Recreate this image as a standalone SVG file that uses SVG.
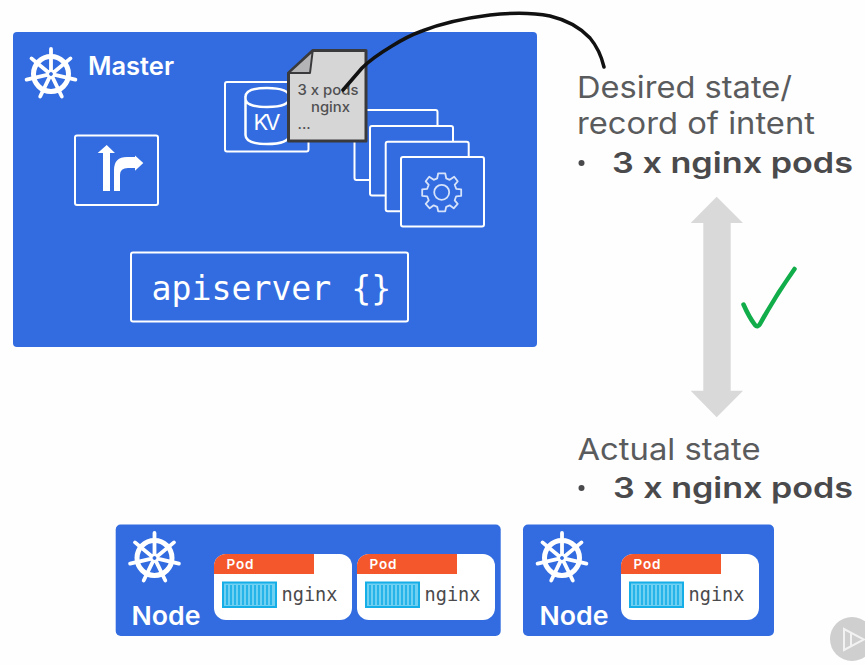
<svg xmlns="http://www.w3.org/2000/svg" width="865" height="665" viewBox="0 0 865 665">
<style>
.blue{fill:#326ce0}
.card{fill:#326ce0;stroke:#fff;stroke-width:2}
.t{font-family:"Inter","Open Sans",sans-serif;fill:#5a5b5d}
.d{font-family:"Inter","Open Sans",sans-serif;fill:#505052;font-weight:500}
.w{font-family:"Inter","Open Sans",sans-serif;fill:#fff;font-weight:600}
.m{font-family:"DejaVu Sans Mono","Liberation Mono",monospace}
.b{font-family:"Inter","Open Sans",sans-serif;font-weight:600;fill:#4a4a4c;font-size:28px}
.pw{fill:#fff}.po{fill:#f4572c}
</style>
<defs>
<g id="helm" fill="none" stroke="#fff" stroke-linecap="round">
<circle r="17.5" stroke-width="5"/>
<path stroke-width="3.800" d="M0-4V-25M3.100-2 19.500-15.600M3.900.9 24.400 5.600M1.700 3.600 10.800 22.500M-1.700 3.600-10.800 22.500M-3.900.9-24.400 5.600M-3.100-2-19.500-15.600"/>
<circle r="3.200" fill="#326ce0" stroke="#fff" stroke-width="2.600"/>
</g>
<g id="pod">
<path class="pw" d="M0 12a12 12 0 0 1 12-12H126a12 12 0 0 1 12 12V54a12 12 0 0 1-12 12H12A12 12 0 0 1 0 54Z"/>
<path class="po" d="M0 20V12A12 12 0 0 1 12 0H100V20Z"/>
<text x="12.500" y="14.500" font-size="13.500" class="w" textLength="27">Pod</text>
<rect x="9" y="28.500" width="53" height="24.500" fill="#6fd0f2" stroke="#16aee6" stroke-width="2"/>
<path d="M13 31V51M17 31V51M21 31V51M25 31V51M29 31V51M33 31V51M37 31V51M41 31V51M45 31V51M49 31V51M53 31V51M57 31V51" stroke="#16aee6" stroke-width="1.600"/>
<text x="67.500" y="46.500" font-size="18.600" class="m" fill="#4a4a4c">nginx</text>
</g>
</defs>
<rect width="865" height="665" fill="#fefefe"/>
<g id="master">
<rect class="blue" x="13" y="32" width="524" height="315" rx="4"/>
<use href="#helm" x="51" y="74"/>
<text x="88" y="75" font-size="25" class="w" textLength="86" lengthAdjust="spacingAndGlyphs">Master</text>
</g>
<g id="scheduler">
<rect class="card" x="75" y="135.500" width="83" height="69.500" rx="2"/>
<path d="M103 191V153H97.700L106.700 145 115 153H110V191ZM114 191V170Q114 157 127 157H135V155.500L143.300 163 135 170.700V168H128Q120 168 120 175V191Z" fill="#fff"/>
</g>
<g id="kv">
<rect class="card" x="225" y="82" width="83.500" height="69.500" rx="2"/>
<path d="M245.500 97V135Q245.500 144 267 144T290 135V97M245.500 97Q245.500 88 267 88T290 97Q290 107 267 107T245.500 97Z" fill="none" stroke="#fff" stroke-width="2.500"/>
<text x="267" y="129.500" font-size="22" text-anchor="middle" font-family="Inter,sans-serif" fill="#fff" textLength="27">KV</text>
</g>
<g id="controllers">
<rect class="card" x="354.500" y="110" width="83" height="70" rx="2"/>
<rect class="card" x="370" y="126" width="83" height="69.500" rx="2"/>
<rect class="card" x="385.700" y="141.700" width="83" height="69.500" rx="2"/>
<rect class="card" x="401" y="157" width="83" height="69.500" rx="2"/>
<g transform="translate(441.700 192.300)" fill="none" stroke="#d5e2fa" stroke-width="1.800">
<circle r="7.500"/>
<path d="M-3.500-19H3.500L4.500-14 8-12.500 12.500-15.500 16-11 13-7.500 14.500-3.500 19.500-3V3.500L14.500 4 13 8 16 11.500 12 16 8 13 4.500 14.500 3.500 19H-3.500L-4.500 14.500-8 13-12 16-16 11.500-13 8-14.500 4-19.500 3.500V-3L-14.500-3.500-13-7.500-16-11-12.500-15.500-8-12.500-4.500-14Z" stroke-linejoin="round"/>
</g>
</g>
<g id="record">
<path d="M312.700 50.500H366V141H288.500V73Z" fill="#d6d6d6" stroke="#3a3a3c" stroke-width="3" stroke-linejoin="round"/>
<path d="M312.700 51 288.500 73H310Z" fill="#b4b4b6" stroke="#3a3a3c" stroke-width="2" stroke-linejoin="round"/>
<text x="297.500" y="95" font-size="14.500" class="d" textLength="61" lengthAdjust="spacingAndGlyphs">3 x pods</text>
<text x="311" y="112" font-size="14.500" class="d" textLength="39" lengthAdjust="spacingAndGlyphs">nginx</text>
<text x="297.500" y="129" font-size="14.500" class="d">...</text>
</g>
<g id="apiserver">
<rect class="card" x="131" y="252.500" width="277" height="69" rx="2"/>
<text x="151.500" y="300" font-size="33.200" class="m" fill="#fff">apiserver {}</text>
</g>
<g id="desired">
<text x="577" y="98" font-size="30" class="t" textLength="215" lengthAdjust="spacingAndGlyphs">Desired state/</text>
<text x="577" y="134" font-size="30" class="t" textLength="238" lengthAdjust="spacingAndGlyphs">record of intent</text>
<circle cx="581.500" cy="163" r="3" fill="#4a4a4c"/>
<text x="612" y="173" class="b" textLength="241" lengthAdjust="spacingAndGlyphs">3 x nginx pods</text>
</g>
<g id="actual">
<text x="577.500" y="460" font-size="30" class="t" textLength="183" lengthAdjust="spacingAndGlyphs">Actual state</text>
<circle cx="581.500" cy="488" r="3" fill="#4a4a4c"/>
<text x="613" y="498" class="b" textLength="240" lengthAdjust="spacingAndGlyphs">3 x nginx pods</text>
</g>
<g id="connectors">
<path d="M716.700 196.700 743 223H730.700V390.700H743L716.700 417.300 690.700 390.700H703.300V223H690.700Z" fill="#d9d9d9"/>
<path d="M343 90Q350 82 362 68 372 58 392 46 408 36 422 31 450 20 490 15 525 11 550 16 575 22 590 38 600 50 604 67" fill="none" stroke="#111" stroke-width="3.500" stroke-linecap="round" stroke-linejoin="round"/>
<path d="M743.500 304.500Q749 317 755 325 757.500 328 760 324 776 295 794.500 269" fill="none" stroke="#12ad4b" stroke-width="4.500" stroke-linecap="round" stroke-linejoin="round"/>
</g>
<g id="node1">
<rect class="blue" x="115.700" y="524.500" width="385" height="111.500" rx="5"/>
<use href="#helm" x="154.500" y="558"/>
<text x="131.500" y="625" font-size="26" class="w" textLength="69" lengthAdjust="spacingAndGlyphs">Node</text>
<use href="#pod" x="214" y="554"/>
<use href="#pod" x="357" y="554"/>
</g>
<g id="node2">
<rect class="blue" x="523" y="524.500" width="251" height="111.500" rx="5"/>
<use href="#helm" x="562" y="558"/>
<text x="539.500" y="625" font-size="26" class="w" textLength="69" lengthAdjust="spacingAndGlyphs">Node</text>
<use href="#pod" x="621" y="554"/>
</g>
<g id="badge">
<circle cx="852" cy="639" r="22" fill="#cfcfcf"/>
<path d="M844 629V650L864 639.500ZM851 633 V646" fill="none" stroke="#f2f2f2" stroke-width="2"/>
</g>
</svg>
